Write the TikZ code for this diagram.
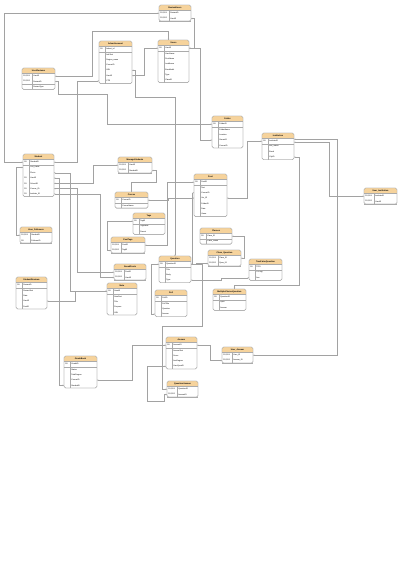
\documentclass[tikz,border=0pt]{standalone}
\usepackage{fontspec}
\setmainfont{Liberation Sans}
\usetikzlibrary{arrows.meta}
\pgfdeclarelayer{back}
\pgfdeclarelayer{bg}
\pgfsetlayers{back,bg,main}
\definecolor{hdr}{HTML}{F6D39C}
\definecolor{bord}{HTML}{ABABAB}
\definecolor{lnk}{HTML}{A2A2A2}
\tikzset{
 tblbox/.style={draw=bord, line width=0.35pt, fill=white, rounded corners=1.6pt, inner sep=0, outer sep=0},
 rowbox/.style={inner sep=0, outer sep=0, minimum height=5.3pt},
 hdrtxt/.style={font=\fontsize{2.1}{2.3}\selectfont\bfseries, inner sep=0},
 keytxt/.style={font=\fontsize{1.9}{2.1}\selectfont, anchor=west, inner sep=0},
 rowtxt/.style={font=\fontsize{1.9}{2.1}\selectfont, anchor=west, inner sep=0},
 conn/.style={draw=lnk, line width=0.32pt, {Stealth[length=1.3pt,width=1.3pt]}-{Stealth[length=1.3pt,width=1.3pt]}},
}
% 1 name, 2 x, 3 y, 4 width, 5 key column, 6 title, 7 number of key rows, 8 rows
\newcommand\ertable[8]{%
  \def\nrows{0}%
  \foreach \ky/\tx [count=\rr] in {#8} {\xdef\nrows{\rr}}%
  \pgfmathsetmacro\tblh{5.5+5.3*\nrows}%
  \node[tblbox, minimum width=#4pt, minimum height=\tblh pt, anchor=north west] (#1) at (#2,#3) {};
  \begin{scope}
    \clip[rounded corners=1.6pt] (#1.north west) rectangle (#1.south east);
    \fill[hdr] (#1.north west) rectangle ([yshift=-5.5pt]#1.north east);
  \end{scope}
  \draw[bord, line width=0.35pt, rounded corners=1.6pt] (#1.north west) rectangle (#1.south east);
  \draw[bord, line width=0.3pt] ([yshift=-5.5pt]#1.north west) -- ([yshift=-5.5pt]#1.north east);
  \node[hdrtxt] (#1-h) at ([yshift=-2.75pt]#1.north) {#6};
  \foreach \ky/\tx [count=\rr] in {#8} {
    \node[rowbox, minimum width=#4pt, anchor=north west] (#1-r\rr) at ([yshift={-5.5pt-5.3pt*(\rr-1)}]#1.north west) {};
    \node[keytxt] (#1-k\rr) at ([xshift=1.2pt]#1-r\rr.west) {\ky};
    \node[rowtxt] (#1-t\rr) at ([xshift={(#5+1.2)*1pt}]#1-r\rr.west) {\tx};
  }
  \draw[bord, line width=0.25pt] ([xshift=#5pt, yshift=-5.5pt]#1.north west) -- ([xshift=#5pt]#1.south west);
  \ifnum#7>0 \draw[bord, line width=0.3pt] ([yshift={-5.5pt-5.3pt*#7}]#1.north west) -- ([yshift={-5.5pt-5.3pt*#7}]#1.north east);\fi
}
\begin{document}
\begin{tikzpicture}[x=1pt,y=-1pt]
\begin{pgfonlayer}{back}
\fill[white] (0,0) rectangle (400,566);
\end{pgfonlayer}
\useasboundingbox (0,0) rectangle (400,566);

\ertable{rev}{159}{5}{32}{10}{ReviewUsers}{2}{{FK,PK1}/ReviewID,{FK,PK2}/UserID}
\ertable{adv}{99}{41}{33}{6}{Advertisement}{1}{PK/Advert\_id,{}/AdvText,{}/Region\_name,{}/CourseID,{}/URL,{}/UserID,{}/CTR}
\ertable{users}{158}{40}{31}{6}{Users}{1}{PK/UserID,{}/UserName,{}/FirstName,{}/LastName,{}/EmailAddr,{}/Type,{}/ClassID}
\ertable{urev}{22}{68}{33}{10}{UserReviews}{2}{{FK,PK1}/UserID,{FK,PK2}/ReviewID,{}/ReviewType}
\ertable{stu}{23}{154}{31}{6}{Student}{1}{PK/StudentID,{}/UID\_name,{}/Photo,FK/UserID,FK/SchoolID,FK/Course\_ID,FK/Institute\_ID}
\ertable{ms}{118}{157}{34}{10}{ManageStudents}{2}{{FK,PK1}/UserID,{FK,PK2}/StudentID}
\ertable{course}{115}{192}{33}{6}{Course}{1}{PK/CourseID,{}/CourseName}
\ertable{fold}{212}{116}{31}{6}{Folder}{1}{PK/FolderID,{}/FolderName,{}/Location,{}/OwnerID,{}/CourseID}
\ertable{inst}{262}{133}{32}{6}{Institution}{1}{PK/InstituteID,{}/Inst\_Name,{}/Email,{}/CityID}
\ertable{ui}{364}{188}{33}{10}{User\_Institution}{2}{{FK,PK1}/InstituteID,{FK,PK2}/UserID}
\ertable{post}{194}{174}{33}{6}{Post}{1}{PK/PostID,{}/Text,{}/CourseID,{}/Ver\_ID,{}/FolderID,{}/Date,{}/Views}
\ertable{tags}{133}{213}{32}{6}{Tags}{1}{PK/TagID,{}/TagName,{}/Parent}
\ertable{pt}{111}{237}{34}{10}{PostTags}{2}{{FK,PK1}/PostID,{FK,PK2}/TagID}
\ertable{up}{114}{264}{32}{10}{SavedPosts}{2}{{FK,PK1}/PostID,{FK,PK2}/UserID}
\ertable{quest}{159}{256}{32}{6}{Question}{1}{PK/QuestionID,{}/Title,{}/Body,{}/Type}
\ertable{appt}{200}{228}{32}{6}{Classes}{1}{PK/Class\_ID,{}/Class\_Name}
\ertable{cq}{208}{250}{33}{10}{Class\_Question}{2}{{FK,PK1}/Class\_ID,{FK,PK2}/Ques\_ID}
\ertable{tf}{249}{259}{33}{6}{TrueFalseQuestion}{1}{PK/TFID,{}/TFFlag,{}/Ans}
\ertable{sr}{16}{277}{31}{6}{StudentReviews}{1}{PK/ReviewID,{}/ReviewText,{}/Rate,{}/UserID,{}/PostID}
\ertable{note}{107}{283}{30}{6}{Note}{1}{PK/NoteID,{}/NoteText,{}/Title,{}/Purpose,{}/URL}
\ertable{poll}{155}{290}{32}{6}{Poll}{1}{PK/PollID,{}/PollTitle,{}/Question,{}/Answer}
\ertable{mcq}{213}{289}{33}{6}{MultipleChoiceQuestion}{1}{PK/QuestionID,{}/OptA,{}/Answer}
\ertable{ans}{166}{337}{31}{6}{Answer}{1}{PK/AnswerID,{}/AnswerText,{}/Score,{}/AnsDegree,{}/UserQuesID}
\ertable{ua}{222}{347}{31}{10}{User\_Answer}{2}{{FK,PK1}/User\_ID,{FK,PK2}/Answer\_ID}
\ertable{qa}{167}{381}{31}{10}{QuestionAnswer}{2}{{FK,PK1}/QuestionID,{FK,PK2}/AnswerID}
\ertable{gb}{64}{356}{33}{6}{GradeBook}{1}{PK/GradeID,{}/Status,{}/TotalDegree,{}/CourseID,{}/StudentID}
\ertable{uf}{20}{227}{32}{10}{User\_Followers}{2}{{FK,PK1}/StudentID,PK/FollowerID}

\begin{pgfonlayer}{bg}
\draw[conn] (rev-r1.west) -- ++(-155,0) |- (stu-r1.west);
\draw[conn] (stu-r1.east) -- ++(23,0) |- (adv-r7.west);
\draw[conn] (urev-r1.east) -- ++(37,0) -- ++(0,-45) -| ([xshift=-5pt]users.north);
\draw[conn] (urev-r2.east) -- ++(3,0) -- ++(0,13) -- ++(49,0) |- (fold-r1.west);
\draw[conn] (adv-r6.east) -- ++(12,0) |- (users-r1.west);
\draw[conn] (rev-r2.east) -- ++(3,0) |- (users-r1.east);
\draw[conn] (users-r1.east) -- ++(11,0) |- (fold-r4.west);
\draw[conn] (adv-r5.east) -- ++(3,0) -- ++(0,27) -| (quest.north);
\draw[conn] (course-r1.east) -- ++(20,0) |- (post-r4.west);
\draw[conn] (post-r4.east) -- ++(20,0) |- (inst-r1.west);
\draw[conn] ([yshift=-1pt]inst-r1.east) -- ++(35,0) |- (ui-r1.west);
\draw[conn] ([yshift=2pt]inst-r1.east) -- ++(43,0) |- (ua-r1.east);
\draw[conn] (inst-r4.east) -- ++(5,0) -- ++(0,128) -| ([xshift=5pt]mcq.north);
\draw[conn] (stu-r4.east) -- ++(5,0) |- (gb-r5.west);
\draw[conn] (stu-r5.east) -- ++(39,0) |- (ms-r1.west);
\draw[conn] (stu-r6.east) -- ++(23,0) |- (up-r1.west);
\draw[conn] (stu-r7.east) -- ++(46,0) |- (up-r2.west);
\draw[conn] (stu-r3.east) -- ++(16,0) |- (note-r1.west);
\draw[conn] (sr-r4.east) -- ++(28,0) |- (note-r1.west);
\draw[conn] (stu-r2.west) -- ++(-7,0) |- (uf-r1.west);
\draw[conn] (ms-r2.east) -- ++(4,0) -- ++(0,12) -| (course.north);
\draw[conn] (pt-r1.east) -- ++(22,0) |- (post-r1.west);
\draw[conn] (pt-r2.west) -- ++(-4,0) |- (tags-r1.west);
\draw[conn] (quest-r1.west) -- ++(-8,0) |- (poll-r4.west);
\draw[conn] (quest-r1.east) -- ++(5,0) |- (cq-r2.west);
\draw[conn] (quest-r1.east) -- ++(11,0) -- ++(0,62) -- ++(-40,0) |- (qa-r1.west);
\draw[conn] (quest-r4.east) -- ++(30,0) |- (tf-r3.west);
\draw[conn] (appt-r1.east) -- ++(12,0) |- (cq-r1.east);
\draw[conn] (post-r3.west) -- ++(-2,0) |- (quest-r1.east);
\draw[conn] (gb-r4.east) -- ++(35,0) |- (ans-r1.west);
\draw[conn] (ans-r1.east) -- ++(13,0) |- (ua-r2.west);
\draw[conn] (qa-r2.west) -- ++(-3,0) -- ++(0,7) -- ++(-17,0) |- (ans-r5.west);
\end{pgfonlayer}
\end{tikzpicture}
\end{document}
